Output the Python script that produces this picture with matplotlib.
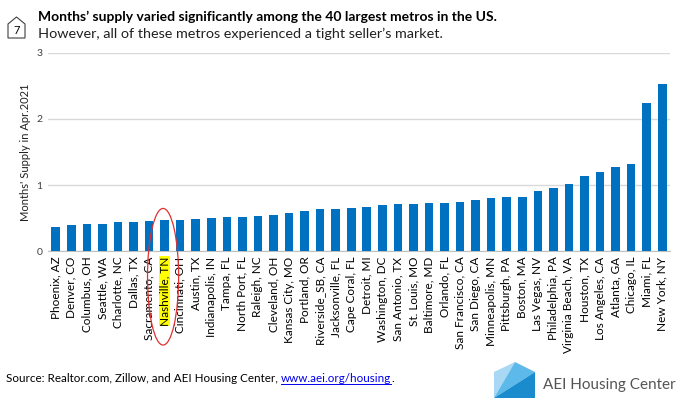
import matplotlib
matplotlib.use("Agg")
import matplotlib.pyplot as plt
from matplotlib.patches import Polygon, Ellipse
import matplotlib.transforms as mtransforms

metros = ["Phoenix, AZ", "Denver, CO", "Columbus, OH", "Seattle, WA", "Charlotte, NC",
          "Dallas, TX", "Sacramento, CA", "Nashville, TN", "Cincinnati, OH", "Austin, TX",
          "Indianapolis, IN", "Tampa, FL", "North Port, FL", "Raleigh, NC", "Cleveland, OH",
          "Kansas City, MO", "Portland, OR", "Riverside_SB, CA", "Jacksonville, FL", "Cape Coral, FL",
          "Detroit, MI", "Washington, DC", "San Antonio, TX", "St. Louis, MO", "Baltimore, MD",
          "Orlando, FL", "San Francisco, CA", "San Diego, CA", "Minneapolis, MN", "Pittsburgh, PA",
          "Boston, MA", "Las Vegas, NV", "Philadelphia, PA", "Virginia Beach, VA", "Houston, TX",
          "Los Angeles, CA", "Atlanta, GA", "Chicago, IL", "Miami, FL", "New York, NY"]
supply = [0.37, 0.40, 0.41, 0.415, 0.44, 0.445, 0.46, 0.47, 0.475, 0.49,
          0.50, 0.51, 0.52, 0.53, 0.55, 0.57, 0.61, 0.63, 0.64, 0.655,
          0.665, 0.70, 0.705, 0.705, 0.72, 0.725, 0.75, 0.78, 0.81, 0.815,
          0.82, 0.91, 0.95, 1.01, 1.13, 1.20, 1.27, 1.32, 2.25, 2.53]
yticks = [0, 1, 2, 3]
highlight = "Nashville, TN"

plt.rcParams['font.family'] = ['Lato', 'DejaVu Sans']

W, H = 686, 405
fig = plt.figure(figsize=(W / 100, H / 100), dpi=100)
ax = fig.add_axes([48 / W, 1 - 251 / H, 622 / W, 198 / H])

x = list(range(len(metros)))
ax.bar(x, supply, width=0.55, color="#0070c0", zorder=3)
ax.set_xlim(-0.5, len(metros) - 0.5)
ax.set_ylim(0, 3)
ax.set_yticks(yticks)
ax.set_yticklabels([str(t) for t in yticks], fontsize=7.5, color="#404040")
ax.set_xticks(x)
ax.set_xticklabels(metros, rotation=90, fontsize=8.5, color="#000000")
ax.tick_params(length=0, axis="both", pad=4)
ax.grid(axis="y", color="#d9d9d9", linewidth=1, zorder=0)
for s in ["top", "right", "left"]:
    ax.spines[s].set_visible(False)
ax.spines["bottom"].set_color("#bfbfbf")
ax.set_ylabel("Months' Supply in Apr.2021", fontsize=8, color="#202020", labelpad=4)

# highlight for Nashville label + red loop
idx = metros.index(highlight)
for lbl in ax.get_xticklabels():
    if lbl.get_text() == highlight:
        lbl.set_bbox(dict(facecolor="#ffff00", edgecolor="none", pad=0.1))
trans = mtransforms.blended_transform_factory(ax.transData, ax.transAxes)
ax.add_patch(Ellipse((idx - 0.1, -0.13), 2.0, 0.69, angle=0, transform=trans,
                     fill=False, edgecolor="#e03030", linewidth=0.9, clip_on=False, zorder=5))

# header
fig.text(38 / W, 1 - 17 / H, "Months\u2019 supply varied significantly among the 40 largest metros in the US.",
         fontsize=10, fontweight="bold", va="center", ha="left")
fig.text(38 / W, 1 - 34 / H, "However, all of these metros experienced a tight seller\u2019s market.",
         fontsize=10.4, va="center", ha="left", color="#202020")
icon = [(8, 38), (8, 24), (16.5, 17), (25, 24), (25, 38)]
fig.patches.append(Polygon([(px / W, 1 - py / H) for px, py in icon], closed=True, fill=False,
                           edgecolor="#404040", linewidth=0.8, transform=fig.transFigure))
fig.text(16.5 / W, 1 - 30 / H, "7", fontsize=8, ha="center", va="center")

# footer
src = fig.text(6 / W, 1 - 379 / H, "Source: Realtor.com, Zillow, and AEI Housing Center, ",
               fontsize=8.4, va="center", ha="left")
fig.canvas.draw()
bb = src.get_window_extent()
link = fig.text(bb.x1 / W, 1 - 379 / H, "www.aei.org/housing", fontsize=8.4, va="center",
                ha="left", color="#0000ee")
fig.canvas.draw()
lb = link.get_window_extent()
fig.add_artist(plt.Line2D([lb.x0 / W, lb.x1 / W], [(lb.y0 + 1) / H] * 2, color="#0000ee",
                          linewidth=0.7, transform=fig.transFigure))
fig.text(lb.x1 / W, 1 - 379 / H, ".", fontsize=8.4, va="center", ha="left")

# logo
facets = [([(494, 372), (515, 362), (494, 398)], "#a8d8f4"),
          ([(515, 362), (535, 372), (494, 398)], "#5cb9ea"),
          ([(535, 372), (535, 398), (494, 398)], "#1a8cce")]
for pts, col in facets:
    fig.patches.append(Polygon([(px / W, 1 - py / H) for px, py in pts], closed=True,
                               facecolor=col, edgecolor="none", transform=fig.transFigure))
fig.text(543 / W, 1 - 385 / H, "AEI Housing Center", fontsize=11, color="#555555",
         va="center", ha="left")

fig.savefig("out.png", dpi=100)
